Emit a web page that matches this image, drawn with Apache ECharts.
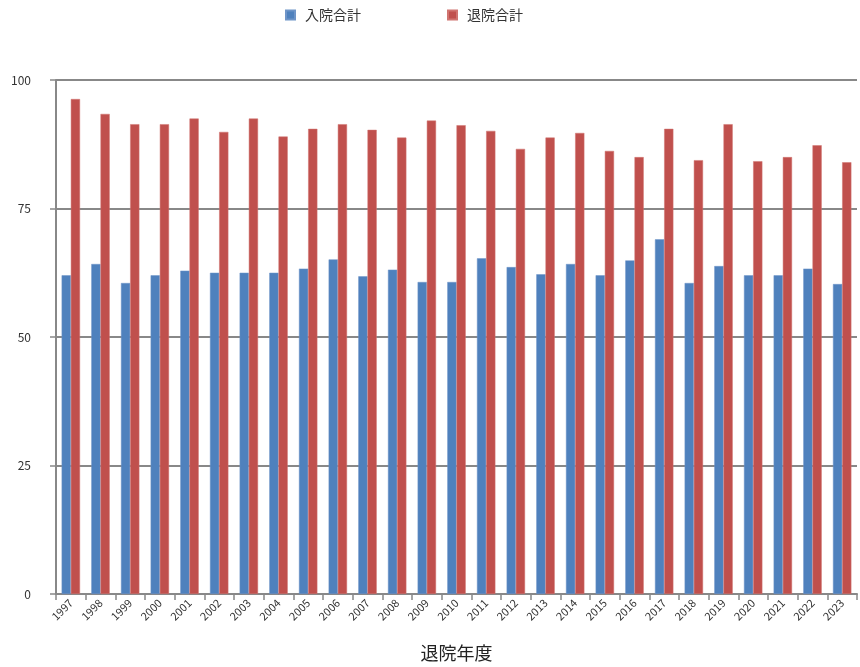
<!DOCTYPE html>
<html><head><meta charset="utf-8">
<script src="https://cdn.jsdelivr.net/npm/echarts@6/dist/echarts.min.js"></script>
<style>html,body{margin:0;padding:0;background:#fff}#c{width:860px;height:667px}</style>
</head><body><div id="c"></div>
<script>
const years = ['1997','1998','1999','2000','2001','2002','2003','2004','2005','2006','2007','2008','2009','2010','2011','2012','2013','2014','2015','2016','2017','2018','2019','2020','2021','2022','2023'];
const admissionTotal = [62.0,64.2,60.5,62.0,62.9,62.5,62.5,62.5,63.3,65.1,61.8,63.1,60.7,60.7,65.3,63.6,62.2,64.2,62.0,64.9,69.0,60.5,63.8,62.0,62.0,63.3,60.3];
const dischargeTotal = [96.3,93.4,91.4,91.4,92.5,89.9,92.5,89.0,90.5,91.4,90.3,88.8,92.1,91.2,90.1,86.6,88.8,89.7,86.2,85.0,90.5,84.4,91.4,84.2,85.0,87.3,84.0];
const yTicks = [0,25,50,75,100];
const seriesNames = ['入院合計','退院合計'];
const xAxisTitle = '退院年度';

const font = '"Noto Sans CJK JP","Noto Sans",sans-serif';
const chart = echarts.init(document.getElementById('c'));
chart.setOption({
  animation:false,
  backgroundColor:'#fff',
  legend:{
    top:3, left:280, itemWidth:9, itemHeight:9, itemGap:86, icon:'rect',
    textStyle:{fontFamily:font,fontSize:14,color:'#333',padding:[0,0,0,5]},
    data:seriesNames
  },
  grid:{left:56,right:3,top:80,bottom:72},
  xAxis:{
    type:'category', data:years,
    name:xAxisTitle, nameLocation:'middle', nameGap:50,
    nameTextStyle:{fontFamily:font,fontSize:18,color:'#222'},
    axisLine:{lineStyle:{color:'#888',width:2}},
    axisTick:{show:true,alignWithLabel:false,length:6,lineStyle:{color:'#888',width:1.5}},
    axisLabel:{rotate:45,fontSize:11,color:'#333',fontFamily:font,margin:7,interval:0}
  },
  yAxis:{
    type:'value', min:yTicks[0], max:yTicks[yTicks.length-1], interval:25,
    axisLine:{show:true,lineStyle:{color:'#888',width:2}},
    axisTick:{show:true,length:6,lineStyle:{color:'#888',width:1.5}},
    splitLine:{lineStyle:{color:'#888',width:2}},
    axisLabel:{fontSize:12,color:'#333',fontFamily:font,margin:25}
  },
  series:[
    {name:seriesNames[0],type:'bar',data:admissionTotal,barGap:'0%',barCategoryGap:'38%',
     itemStyle:{color:'#4F81BD',borderColor:'#6f95c8',borderWidth:0.5}},
    {name:seriesNames[1],type:'bar',data:dischargeTotal,barGap:'0%',barCategoryGap:'38%',
     itemStyle:{color:'#C0504D',borderColor:'#d07470',borderWidth:0.5}}
  ]
});
</script></body></html>
